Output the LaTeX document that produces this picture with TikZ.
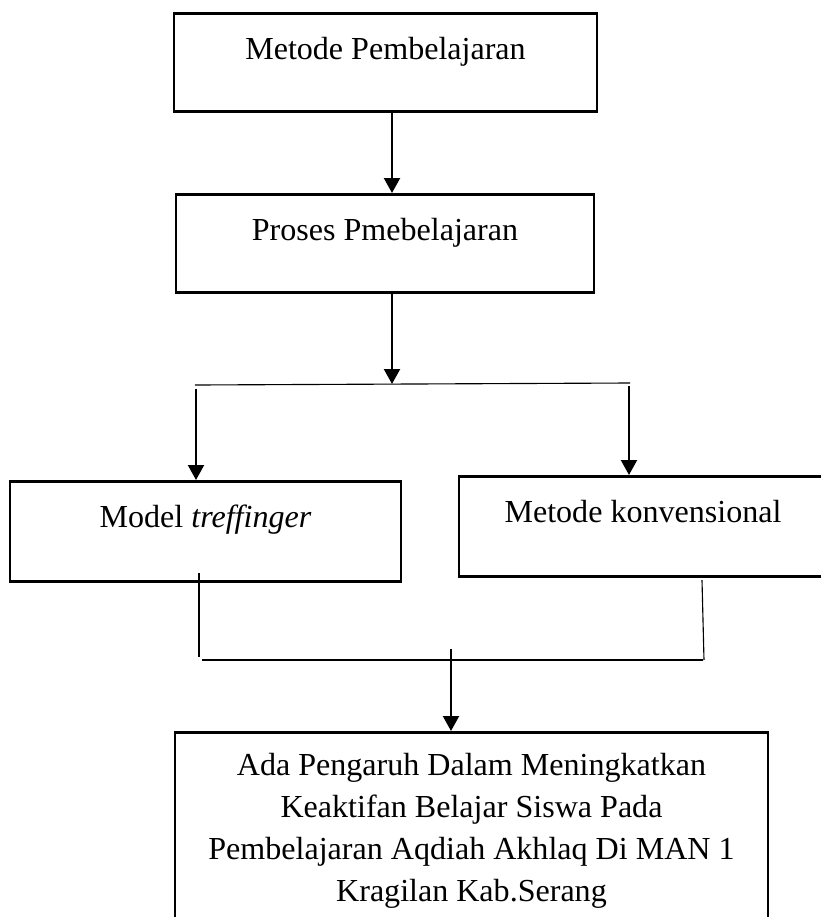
\documentclass[tikz,border=0pt]{standalone}
\usepackage{fontspec}
\setmainfont{Liberation Serif}
\usetikzlibrary{arrows.meta}

\def\px{0.025cm}

\tikzset{
	box/.style={draw,line width=2pt,inner sep=0pt,anchor=north,align=center,
		font={\fontsize{22.8}{29.9}\selectfont}},
	onebox/.style={box,text height=46*\px},
	arr/.style={-{Triangle[width=0.4cm,length=0.375cm]},line width=1.5pt},
	joinline/.style={line width=0.8pt}
}

\begin{document}
\begin{tikzpicture}[x=\px,y=-\px]

\useasboundingbox (0,0) rectangle (821,917);
\clip (0,0) rectangle (821,917);

\node[onebox,minimum width=423*\px,text depth=52*\px] (metode) at (385.5,12) {Metode Pembelajaran};
\node[onebox,minimum width=418*\px,text depth=52*\px] (proses) at (385,193) {Proses Pmebelajaran};
\node[onebox,minimum width=391*\px,text depth=54*\px] (model) at (205.5,480) {Model \textit{treffinger}};
\node[onebox,minimum width=368*\px,text depth=54*\px] (konvensional) at (643,475) {Metode konvensional};
\node[box,minimum width=593*\px,minimum height=196*\px] (hasil) at (471.5,731)
	{Ada Pengaruh Dalam Meningkatkan\\Keaktifan Belajar Siswa Pada\\Pembelajaran Aqdiah Akhlaq Di MAN 1\\Kragilan Kab.Serang};

\coordinate (split) at (392,384);
\coordinate (splitL) at (195,385);
\coordinate (splitR) at (630,383);
\coordinate (downL) at (196,389);
\coordinate (downR) at (629,386);
\coordinate (joinLt) at (199,573);
\coordinate (joinLb) at (199,657);
\coordinate (joinRt) at (702,580);
\coordinate (joinRb) at (704,660);
\coordinate (joinL) at (202,660);
\coordinate (joinR) at (703,660);
\coordinate (merge) at (451,649);

\draw[arr] (metode.south -| split) -- (proses.north -| split);
\draw[arr] (proses.south -| split) -- (split);
\draw[joinline] (splitL) -- (splitR);

\draw[arr] (downL) -- (downL |- model.north);
\draw[arr] (downR) -- (downR |- konvensional.north);

\draw[joinline] (joinLt) -- (joinLb);
\draw[joinline] (joinRt) -- (joinRb);
\draw[joinline] (joinL) -- (joinR);
\draw[arr] (merge) -- (merge |- hasil.north);

\end{tikzpicture}
\end{document}
